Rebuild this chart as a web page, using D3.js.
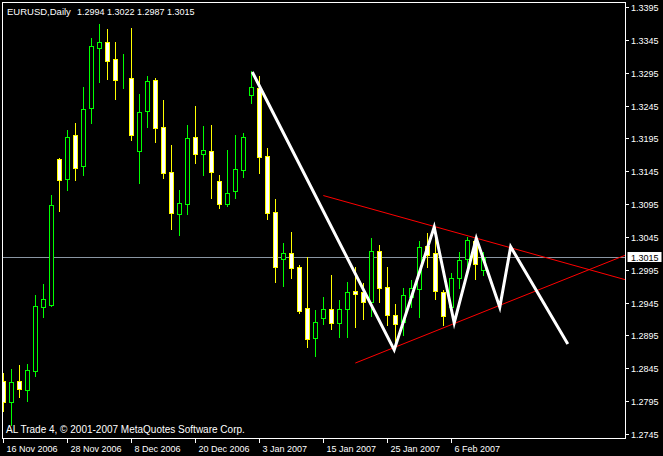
<!DOCTYPE html>
<html>
<head>
<meta charset="utf-8">
<script src="https://cdn.jsdelivr.net/npm/d3@7"></script>
<style>
  html, body { margin: 0; padding: 0; background: #000; }
  svg { display: block; }
  text { font-family: "Liberation Sans", Arial, sans-serif; font-size: 9px; fill: #fff; }
  text.title { font-size: 9.5px; }
  text.copyright { font-size: 10px; }
</style>
</head>
<body>
<div id="chart"></div>
<script>
const dates = [
  '2006-11-16', '2006-11-17', '2006-11-20', '2006-11-21', '2006-11-22', '2006-11-23', '2006-11-24', '2006-11-27',
  '2006-11-28', '2006-11-29', '2006-11-30', '2006-12-01', '2006-12-04', '2006-12-05', '2006-12-06', '2006-12-07',
  '2006-12-08', '2006-12-11', '2006-12-12', '2006-12-13', '2006-12-14', '2006-12-15', '2006-12-18', '2006-12-19',
  '2006-12-20', '2006-12-21', '2006-12-22', '2006-12-26', '2006-12-27', '2006-12-28', '2006-12-29', '2007-01-02',
  '2007-01-03', '2007-01-04', '2007-01-05', '2007-01-08', '2007-01-09', '2007-01-10', '2007-01-11', '2007-01-12',
  '2007-01-15', '2007-01-16', '2007-01-17', '2007-01-18', '2007-01-19', '2007-01-22', '2007-01-23', '2007-01-24',
  '2007-01-25', '2007-01-26', '2007-01-29', '2007-01-30', '2007-01-31', '2007-02-01', '2007-02-02', '2007-02-05',
  '2007-02-06', '2007-02-07', '2007-02-08', '2007-02-09', '2007-02-12'
];

const open = [
  1.2826, 1.2794, 1.2826, 1.2812, 1.2841, 1.2938, 1.2941, 1.3164, 1.3133, 1.3200,
  1.3153, 1.3241, 1.3333, 1.3342, 1.3316, 1.3285, 1.3287, 1.3176, 1.3237, 1.3284,
  1.3212, 1.3144, 1.3080, 1.3095, 1.3197, 1.3171, 1.3176, 1.3130, 1.3095, 1.3115,
  1.3147, 1.3261, 1.3272, 1.3168, 1.3083, 1.3011, 1.3021, 1.2999, 1.2937, 1.2891,
  1.2922, 1.2935, 1.2914, 1.2935, 1.2963, 1.2961, 1.2946, 1.3024, 1.2969, 1.2926,
  1.2915, 1.2954, 1.2966, 1.3031, 1.3021, 1.2961, 1.2938, 1.2982, 1.3011, 1.3039,
  1.2994
];
const high = [
  1.2838, 1.2844, 1.2850, 1.2852, 1.2957, 1.2973, 1.3109, 1.3165, 1.3208, 1.3218,
  1.3273, 1.3348, 1.3369, 1.3362, 1.3342, 1.3323, 1.3363, 1.3263, 1.3290, 1.3287,
  1.3253, 1.3185, 1.3116, 1.3215, 1.3244, 1.3214, 1.3215, 1.3139, 1.3177, 1.3200,
  1.3203, 1.3298, 1.3290, 1.3180, 1.3103, 1.3036, 1.3052, 1.3002, 1.3014, 1.2934,
  1.2954, 1.2987, 1.2949, 1.2976, 1.2999, 1.2975, 1.3043, 1.3033, 1.2999, 1.2943,
  1.2967, 1.2979, 1.3039, 1.3051, 1.3060, 1.2964, 1.2990, 1.3022, 1.3045, 1.3045,
  1.3022
];
const low = [
  1.2780, 1.2759, 1.2801, 1.2795, 1.2833, 1.2923, 1.2940, 1.3084, 1.3116, 1.3132,
  1.3139, 1.3218, 1.3281, 1.3285, 1.3255, 1.3272, 1.3193, 1.3127, 1.3212, 1.3189,
  1.3135, 1.3057, 1.3048, 1.3080, 1.3158, 1.3139, 1.3104, 1.3089, 1.3092, 1.3104,
  1.3136, 1.3249, 1.3142, 1.3072, 1.2976, 1.2970, 1.2982, 1.2929, 1.2877, 1.2864,
  1.2912, 1.2905, 1.2893, 1.2893, 1.2908, 1.2920, 1.2925, 1.2946, 1.2911, 1.2880,
  1.2896, 1.2938, 1.2923, 1.2999, 1.2950, 1.2911, 1.2929, 1.2967, 1.2999, 1.2981,
  1.2987
];
const close = [
  1.2794, 1.2824, 1.2813, 1.2842, 1.2940, 1.2950, 1.3094, 1.3132, 1.3197, 1.3150,
  1.3240, 1.3336, 1.3342, 1.3313, 1.3284, 1.3285, 1.3200, 1.3235, 1.3282, 1.3211,
  1.3142, 1.3081, 1.3097, 1.3196, 1.3171, 1.3177, 1.3144, 1.3095, 1.3112, 1.3148,
  1.3197, 1.3273, 1.3167, 1.3081, 1.2999, 1.3021, 1.2998, 1.2932, 1.2890, 1.2915,
  1.2935, 1.2914, 1.2935, 1.2961, 1.2958, 1.2946, 1.3024, 1.2967, 1.2926, 1.2912,
  1.2957, 1.2967, 1.3030, 1.3017, 1.2963, 1.2925, 1.2982, 1.3010, 1.3040, 1.3004,
  1.3015
];

const priceTicks = [1.3395, 1.3345, 1.3295, 1.3245, 1.3195, 1.3145, 1.3095, 1.3045,
  1.2995, 1.2945, 1.2895, 1.2845, 1.2795, 1.2745];

const zigzagBar = [31.16, 48.9, 53.9, 56.4, 59.16, 62.1, 63.46, 70.6];
const zigzagPrice = [1.3296, 1.2873, 1.3060, 1.2914, 1.3043, 1.2938, 1.3030, 1.2882];

const upperBar = [40.04, 77.75];
const upperPrice = [1.3108, 1.2980];
const lowerBar = [44.04, 77.75];
const lowerPrice = [1.2853, 1.3017];

const symbol = 'EURUSD,Daily';
const bid = 1.3015;
const copyright = 'AL Trade 4, \u00a9 2001-2007 MetaQuotes Software Corp.';

const width = 663;
const height = 456;
const plotLeft = 2.5;
const plotRight = 625.5;
const plotTop = 2.5;
const plotBottom = 438.5;
const barStep = 8;
const bull = '#00ff00';
const bear = '#ffff00';

let svg = d3.select('#chart').append('svg')
  .attr('width', width)
  .attr('height', height)

svg.append('rect')
  .attr('width', width)
  .attr('height', height)
  .attr('fill', '#000')

let x = d3.scaleLinear()
  .domain([0, 60])
  .range([3, 3 + 60 * barStep])

let y = d3.scaleLinear()
  .domain([1.2745, 1.3395])
  .range([434, 7])

let px = v => Math.round(v) + 0.5;

svg.append('clipPath')
  .attr('id', 'plot-clip')
  .append('rect')
    .attr('x', plotLeft)
    .attr('y', plotTop)
    .attr('width', plotRight - plotLeft)
    .attr('height', plotBottom - plotTop)

let plot = svg.append('g')
  .attr('clip-path', 'url(#plot-clip)')

// bid line
plot.append('line')
  .attr('x1', plotLeft)
  .attr('x2', plotRight)
  .attr('y1', px(y(bid)))
  .attr('y2', px(y(bid)))
  .attr('stroke', '#8a96a3')
  .attr('shape-rendering', 'crispEdges')

let bars = d3.range(dates.length).map(i => ({
  i: i,
  date: d3.timeParse('%Y-%m-%d')(dates[i]),
  o: open[i], h: high[i], l: low[i], c: close[i]
}));

let candles = plot.selectAll('g.candle').data(bars).enter().append('g')
  .classed('candle', true)
  .attr('shape-rendering', 'crispEdges')

candles.append('line')
  .attr('x1', d => Math.round(x(d.i)) + 0.5)
  .attr('x2', d => Math.round(x(d.i)) + 0.5)
  .attr('y1', d => Math.round(y(d.h)))
  .attr('y2', d => Math.round(y(d.l)) + 1)
  .attr('stroke', d => d.c >= d.o ? bull : bear)

candles.append('rect')
  .attr('x', d => Math.round(x(d.i)) - 1.5)
  .attr('width', 4)
  .attr('y', d => px(y(Math.max(d.o, d.c))))
  .attr('height', d => Math.max(0, Math.round(y(Math.min(d.o, d.c))) - Math.round(y(Math.max(d.o, d.c)))))
  .attr('fill', d => d.c >= d.o ? '#000' : '#fff')
  .attr('stroke', d => d.c >= d.o ? bull : bear)

// trend lines and zigzag
let trend = d3.line()
  .x(d => x(d[0]))
  .y(d => y(d[1]))

plot.append('path')
  .datum(d3.zip(upperBar, upperPrice))
  .attr('d', trend)
  .attr('fill', 'none')
  .attr('stroke', '#ff0000')
  .attr('stroke-width', 1)

plot.append('path')
  .datum(d3.zip(lowerBar, lowerPrice))
  .attr('d', trend)
  .attr('fill', 'none')
  .attr('stroke', '#ff0000')
  .attr('stroke-width', 1)

plot.append('path')
  .datum(d3.zip(zigzagBar, zigzagPrice))
  .attr('d', trend)
  .attr('fill', 'none')
  .attr('stroke', '#fff')
  .attr('stroke-width', 3)
  .attr('stroke-linejoin', 'miter')
  .attr('stroke-miterlimit', 10)

// frame
svg.append('rect')
  .attr('x', plotLeft)
  .attr('y', plotTop)
  .attr('width', plotRight - plotLeft)
  .attr('height', plotBottom - plotTop)
  .attr('fill', 'none')
  .attr('stroke', '#fff')
  .attr('shape-rendering', 'crispEdges')

// price axis
let priceGroups = svg.append('g')
  .attr('shape-rendering', 'crispEdges')
  .selectAll('g').data(priceTicks).enter().append('g')
    .attr('transform', d => `translate(0, ${px(y(d))})`)

priceGroups.append('line')
  .attr('x1', plotRight)
  .attr('x2', plotRight + 3)
  .attr('stroke', '#fff')

priceGroups.append('text')
  .attr('x', 631)
  .attr('dy', '0.35em')
  .text(d => d.toFixed(4))

svg.append('rect')
  .attr('x', 627.5)
  .attr('y', px(y(bid)) - 5.5)
  .attr('width', 34)
  .attr('height', 10)
  .attr('fill', '#fff')

svg.append('text')
  .attr('x', 631)
  .attr('y', px(y(bid)))
  .attr('dy', '0.35em')
  .style('fill', '#000')
  .text(bid.toFixed(4))

// time axis
let formatDate = d3.timeFormat('%-d %b %Y');
let timeTicks = bars.filter(d => d.i % 8 === 0);

let timeGroups = svg.append('g').selectAll('g').data(timeTicks).enter().append('g')
  .attr('transform', d => `translate(${Math.round(x(d.i)) + 0.5}, 0)`)

timeGroups.append('line')
  .attr('y1', plotBottom)
  .attr('y2', plotBottom + 4)
  .attr('stroke', '#fff')
  .attr('shape-rendering', 'crispEdges')

timeGroups.append('text')
  .attr('x', 3)
  .attr('y', 452)
  .text(d => formatDate(d.date))

// header and footer
let title = svg.append('text')
  .classed('title', true)
  .attr('x', 7)
  .attr('y', 14.5)

title.append('tspan')
  .text(symbol)

title.append('tspan')
  .attr('x', 77)
  .style('font-size', '9px')
  .text([open[60], high[60], low[60], close[60]].map(v => v.toFixed(4)).join(' '))

svg.append('text')
  .classed('copyright', true)
  .attr('x', 6)
  .attr('y', 433)
  .text(copyright)
</script>
</body>
</html>
